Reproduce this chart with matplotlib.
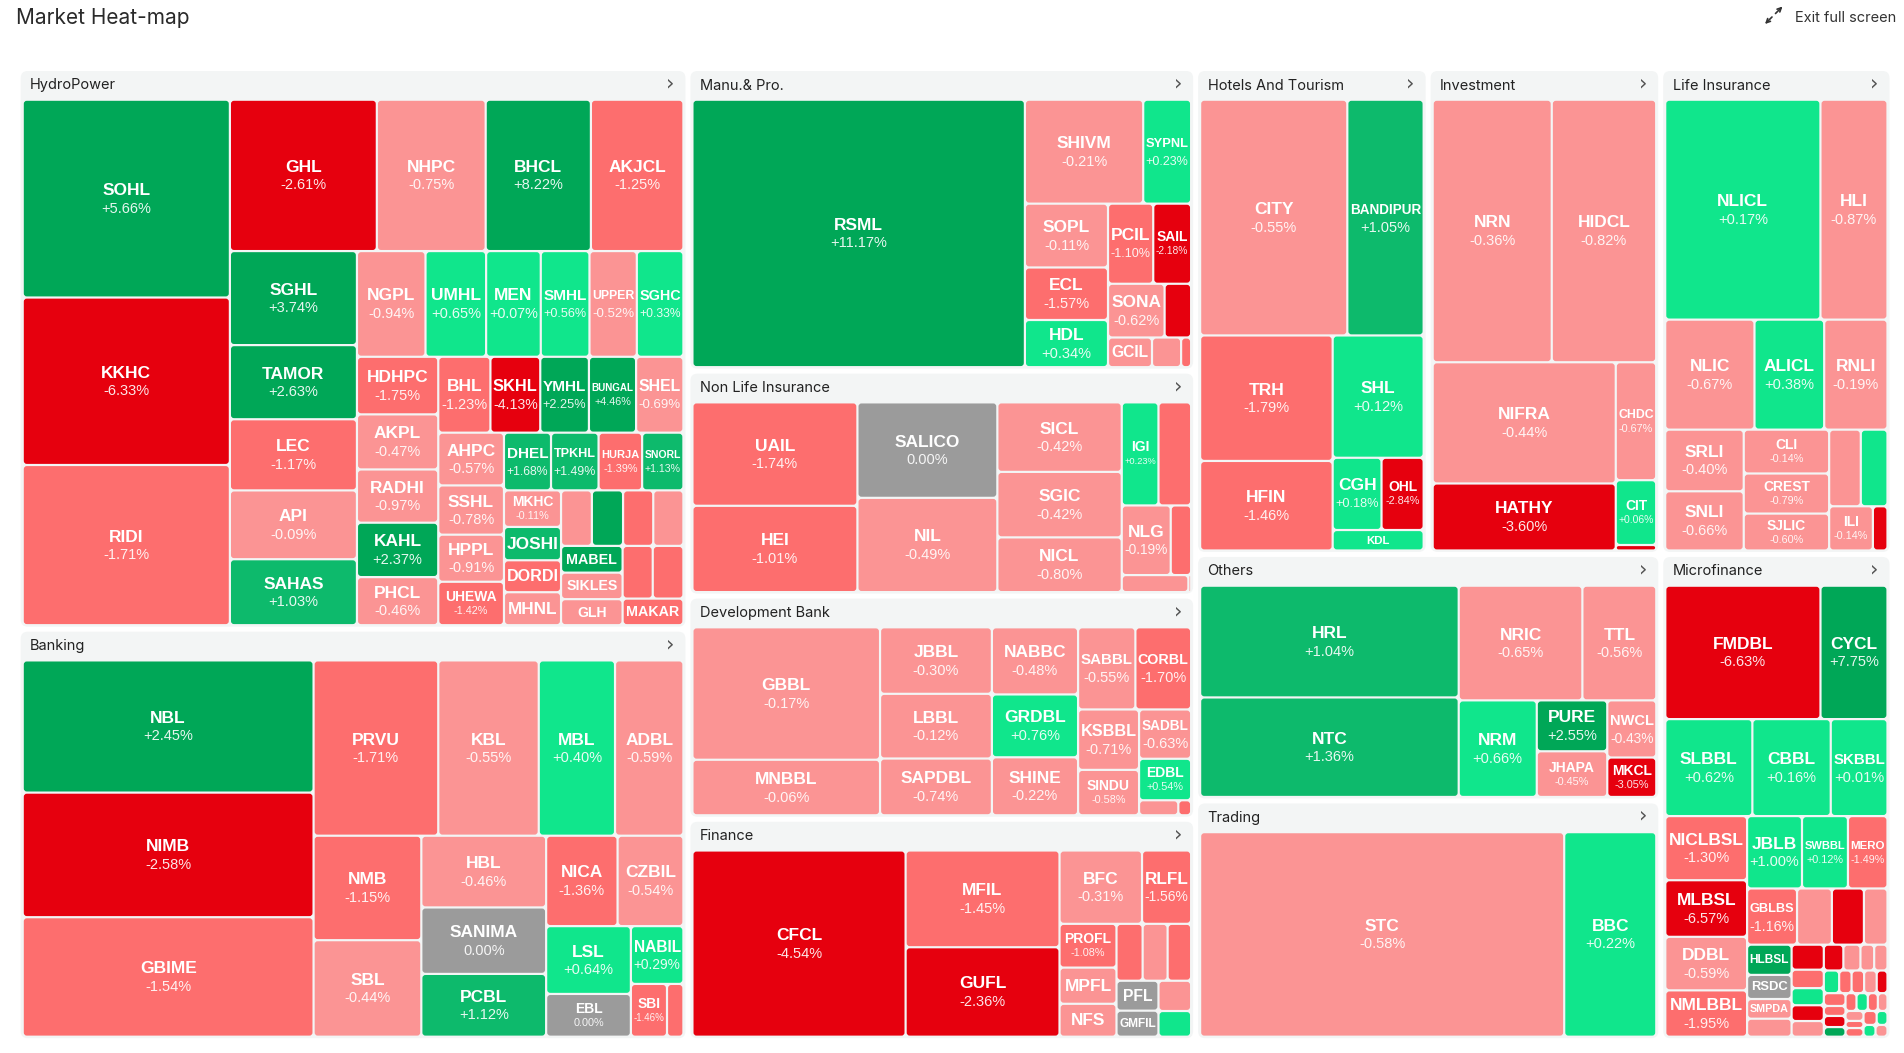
import matplotlib
matplotlib.use("Agg")
import matplotlib.pyplot as plt
from matplotlib.patches import FancyBboxPatch

PHI = (1 + 5 ** 0.5) / 2

# sector blocks and their relative size on the board
sectors = ["HydroPower", "Banking", "Manu.& Pro.", "Non Life Insurance",
           "Development Bank", "Finance", "Hotels And Tourism", "Investment",
           "Life Insurance", "Others", "Trading", "Microfinance"]
sector_size = [252.2, 185.1, 103.2, 76.7, 76.1, 75.5, 75.9, 75.9, 75.5, 77.0, 74.9, 75.5]

# stocks per sector: ticker, change (%), size  ("" = tile too small for a label)
hydro_names = ["SOHL", "KKHC", "RIDI", "GHL", "NHPC", "BHCL", "AKJCL", "SGHL", "TAMOR", "LEC",
               "API", "SAHAS", "NGPL", "UMHL", "MEN", "SMHL", "UPPER", "SGHC", "HDHPC", "AKPL",
               "RADHI", "KAHL", "PHCL", "BHL", "SKHL", "YMHL", "BUNGAL", "SHEL", "AHPC", "SSHL",
               "HPPL", "UHEWA", "DHEL", "TPKHL", "HURJA", "SNORL", "MKHC", "JOSHI", "DORDI", "MHNL",
               "", "", "", "", "MABEL", "SIKLES", "GLH", "", "", "MAKAR"]
hydro_change = [5.66, -6.33, -1.71, -2.61, -0.75, 8.22, -1.25, 3.74, 2.63, -1.17,
                -0.09, 1.03, -0.94, 0.65, 0.07, 0.56, -0.52, 0.33, -1.75, -0.47,
                -0.97, 2.37, -0.46, -1.23, -4.13, 2.25, 4.46, -0.69, -0.57, -0.78,
                -0.91, -1.42, 1.68, 1.49, -1.39, 1.13, -0.11, 1.52, -1.31, -0.62,
                -0.45, 2.41, -1.36, -0.58, 2.18, -0.72, -0.35, -1.24, -1.18, -1.33]
hydro_value = [27873, 23598, 22572, 15127, 11205, 10832, 9524, 8125, 6407, 6148,
               5946, 5700, 4929, 4358, 3929, 3501, 3405, 3350, 3185, 3046,
               2945, 3009, 2659, 2692, 2572, 2512, 2434, 2443, 2357, 2201,
               2104, 1940, 1846, 1865, 1709, 1620, 1420, 1294, 1240, 1280,
               1165, 1178, 1140, 1140, 1120, 1110, 1090, 1080, 1100, 1100]

bank_names = ["NBL", "NIMB", "GBIME", "PRVU", "KBL", "MBL", "ADBL", "NMB", "SBL", "HBL",
              "SANIMA", "PCBL", "NICA", "CZBIL", "LSL", "EBL", "NABIL", "SBI", ""]
bank_change = [2.45, -2.58, -1.54, -1.71, -0.55, 0.40, -0.59, -1.15, -0.44, -0.46,
               0.00, 1.12, -1.36, -0.54, 0.64, 0.00, 0.29, -1.46, -1.25]
bank_value = [26000, 24500, 23500, 14781, 11911, 9041, 8108, 7610, 7031, 6052,
              5609, 5299, 4366, 4026, 3885, 2450, 2053, 1289, 586]

manu_names = ["RSML", "SHIVM", "SYPNL", "SOPL", "ECL", "HDL", "PCIL", "SAIL", "SONA", "",
              "GCIL", "", ""]
manu_change = [11.17, -0.21, 0.23, -0.11, -1.57, 0.34, -1.10, -2.18, -0.62, -2.90,
               -0.40, -0.50, -1.30]
manu_value = [59840, 8276, 3352, 3570, 2938, 2638, 2438, 2043, 2046, 959, 878, 581, 200]

nonlife_names = ["UAIL", "HEI", "SALICO", "NIL", "SICL", "SGIC", "NICL", "IGI", "", "NLG",
                 "", "", ""]
nonlife_change = [-1.74, -1.01, 0.00, -0.49, -0.42, -0.42, -0.80, 0.23, -1.50, -0.19,
                  -1.40, -0.50, -0.50]
nonlife_value = [11408, 9518, 8931, 8817, 5782, 5446, 4550, 2530, 2250, 2280, 949, 758, 31]

devbank_names = ["GBBL", "MNBBL", "JBBL", "LBBL", "SAPDBL", "NABBC", "GRDBL", "SHINE",
                 "SABBL", "CORBL", "KSBBL", "SINDU", "SADBL", "EDBL", "", ""]
devbank_change = [-0.17, -0.06, -0.30, -0.12, -0.74, -0.48, 0.76, -0.22,
                  -0.55, -1.70, -0.71, -0.58, -0.63, 0.54, -0.40, -1.20]
devbank_value = [16655, 6984, 4987, 4850, 4255, 3878, 3631, 3349,
                 3156, 3069, 2470, 1856, 1721, 1448, 395, 129]

finance_names = ["CFCL", "MFIL", "GUFL", "BFC", "RLFL", "PROFL", "MPFL", "NFS", "", "",
                 "", "PFL", "GMFIL", "", ""]
finance_change = [-4.54, -1.45, -2.36, -0.31, -1.56, -1.08, -0.45, -0.35, -1.30, -0.60,
                  -1.20, 0.00, 0.00, -0.50, 0.40]
finance_value = [26699, 10017, 9261, 4071, 2422, 1677, 1387, 1261, 1000, 956,
                 900, 845, 735, 665, 564]

hotel_names = ["CITY", "BANDIPUR", "TRH", "HFIN", "SHL", "CGH", "OHL", "KDL"]
hotel_change = [-0.55, 1.05, -1.79, -1.46, 0.12, 0.18, -2.84, 0.30]
hotel_value = [23317, 12094, 11176, 7975, 7480, 2372, 2046, 1252]

invest_names = ["NRN", "HIDCL", "NIFRA", "HATHY", "CHDC", "CIT", ""]
invest_change = [-0.36, -0.82, -0.44, -3.60, -0.67, 0.06, -2.50]
invest_value = [21011, 18425, 14915, 8245, 3204, 1761, 149]

life_names = ["NLICL", "HLI", "NLIC", "ALICL", "RNLI", "SRLI", "SNLI", "CLI", "CREST",
              "SJLIC", "", "", "ILI", ""]
life_change = [0.17, -0.87, -0.67, 0.38, -0.19, -0.40, -0.66, -0.14, -0.79,
               -0.60, -0.30, 0.20, -0.14, -2.60]
life_value = [23194, 10018, 6673, 5210, 4732, 3289, 3159, 2545, 2326, 2142, 1648, 1390, 1314, 439]

others_names = ["HRL", "NTC", "NRIC", "TTL", "NRM", "PURE", "JHAPA", "NWCL", "MKCL"]
others_change = [1.04, 1.36, -0.65, -0.56, 0.66, 2.55, -0.45, -0.43, -3.05]
others_value = [19398, 17278, 9521, 5690, 5062, 2410, 2162, 1881, 1298]

trading_names = ["STC", "BBC"]
trading_change = [-0.58, 0.22]
trading_value = [50745, 12835]

micro_names = ["FMDBL", "CYCL", "SLBBL", "CBBL", "SKBBL", "NICLBSL", "MLBSL", "DDBL", "NMLBBL",
               "JBLB", "SWBBL", "MERO", "GBLBS", "", "", "", "HLBSL", "RSDC", "SMPDA", ""] + [""] * 29
micro_change = [-6.63, 7.75, 0.62, 0.16, 0.01, -1.30, -6.57, -0.59, -1.95,
                1.00, 0.12, -1.49, -1.16, -0.50, -3.00, -0.40, 2.30, 0.00, -0.60, -0.30,
                -2.50, -1.40, 0.50, -2.20, -0.60,
                -2.70, -0.50, -0.40, -0.60,
                0.60, -1.30, -1.50, -0.70, -2.40,
                -1.20, -1.60, -2.30, 2.60,
                -1.10, 0.40, -1.30, -0.50,
                -0.80, -1.20, -1.40,
                -1.70, 0.30,
                0.50, -0.40]
micro_value = [14071, 6077, 5739, 5166, 3741, 3566, 3146, 2976, 2576,
               2701, 2261, 1946, 1908, 1331, 1224, 901, 914, 729, 596, 544,
               548, 404, 375, 346, 343,
               343, 300, 241, 234,
               236, 191, 193, 194, 166,
               189, 147, 164, 142,
               133, 137, 121, 117,
               122, 87, 106,
               125, 103,
               96, 96]

sector_data = {
    "HydroPower": (hydro_names, hydro_change, hydro_value),
    "Banking": (bank_names, bank_change, bank_value),
    "Manu.& Pro.": (manu_names, manu_change, manu_value),
    "Non Life Insurance": (nonlife_names, nonlife_change, nonlife_value),
    "Development Bank": (devbank_names, devbank_change, devbank_value),
    "Finance": (finance_names, finance_change, finance_value),
    "Hotels And Tourism": (hotel_names, hotel_change, hotel_value),
    "Investment": (invest_names, invest_change, invest_value),
    "Life Insurance": (life_names, life_change, life_value),
    "Others": (others_names, others_change, others_value),
    "Trading": (trading_names, trading_change, trading_value),
    "Microfinance": (micro_names, micro_change, micro_value),
}


def squarify(values, x0, y0, x1, y1):
    # squarified treemap (golden ratio), values kept in given order
    rects = []
    total = float(sum(values))
    n = len(values)
    i0 = 0
    while i0 < n:
        dx, dy = x1 - x0, y1 - y0
        s = values[i0]
        lo = hi = s
        i1 = i0 + 1
        alpha = max(dy / dx, dx / dy) / (total * PHI)
        beta = s * s * alpha
        best = max(hi / beta, beta / lo)
        while i1 < n:
            v = values[i1]
            s2 = s + v
            lo2, hi2 = min(lo, v), max(hi, v)
            beta = s2 * s2 * alpha
            r = max(hi2 / beta, beta / lo2)
            if r > best:
                break
            s, lo, hi, best = s2, lo2, hi2, r
            i1 += 1
        row = values[i0:i1]
        if dx < dy:
            yb = y0 + dy * s / total
            xx = x0
            for v in row:
                w = dx * v / s
                rects.append((xx, y0, w, yb - y0))
                xx += w
            y0 = yb
        else:
            xb = x0 + dx * s / total
            yy = y0
            for v in row:
                h = dy * v / s
                rects.append((x0, yy, xb - x0, h))
                yy += h
            x0 = xb
        total -= s
        i0 = i1
    return rects


def tile_color(c):
    if c >= 2:
        return "#00a757"
    if c > 1:
        return "#0dba6c"
    if c > 0:
        return "#10e68c"
    if c == 0:
        return "#9b9b9b"
    if c > -1:
        return "#fb9494"
    if c > -2:
        return "#fd6e6e"
    return "#e6000e"


def pct(c):
    return "0.00%" if c == 0 else f"{c:+.2f}%"


fig = plt.figure(figsize=(19.04, 10.53), dpi=100)
ax = fig.add_axes([0, 0, 1, 1])
ax.set_xlim(0, 1904)
ax.set_ylim(1053, 0)
ax.axis("off")

LBL = "Liberation Sans"
HDR = ["Inter", "DejaVu Sans"]

ax.text(16.5, 23.5, "Market Heat-map", fontsize=15, color="#2a2a2a", family=HDR,
        ha="left", va="baseline")
ax.text(1795, 21.5, "Exit full screen", fontsize=10.5, color="#333333", family=HDR,
        ha="left", va="baseline")
for a, b in [((1775.5, 13.5), (1782.5, 6.5)), ((1772.0, 17.0), (1765.0, 24.0))]:
    ax.annotate("", xy=b, xytext=a,
                arrowprops=dict(arrowstyle="->", lw=1.2, color="#333333", mutation_scale=7,
                                shrinkA=0, shrinkB=0))

GAP = 1.1
to_fit = []  # (text, available width in px)
sector_rects = squarify(sector_size, 18.2, 68.5, 1892.0, 1040.7)

for sec, (sx, sy, sw, sh) in zip(sectors, sector_rects):
    px, py, pw, ph = sx + 2.5, sy + 2.5, sw - 5, sh - 5
    ax.add_patch(FancyBboxPatch((px, py), pw, ph, boxstyle="round,pad=0,rounding_size=7",
                                fc="#f3f5f5", ec="none"))
    ax.text(px + 9.5, py + 14.5, sec, fontsize=10.5, color="#222222", family=HDR,
            ha="left", va="center")
    ax.text(px + pw - 15, py + 12.5, "\u203a", fontsize=15, color="#555555",
            family="DejaVu Sans", ha="center", va="center")

    names, changes, values = sector_data[sec]
    tiles = squarify(values, px + 2, py + 28.7, px + pw - 2, py + ph - 1.5)
    for (x, y, w, h), name, chg in zip(tiles, names, changes):
        bw, bh = max(w - 2 * GAP, 0.6), max(h - 2 * GAP, 0.6)
        r = min(3.0, bw / 2, bh / 2)
        p = FancyBboxPatch((x + GAP, y + GAP), bw, bh,
                           boxstyle=f"round,pad=0,rounding_size={r}",
                           fc=tile_color(chg), ec="none")
        ax.add_patch(p)
        if not name:
            continue
        cx, cy = x + w / 2, y + h / 2
        txts = []
        if h < 36.5:
            fs = min(12.5, max(7.5, 0.34 * h + 1.2))
            txts.append(ax.text(cx, cy + 0.5, name, fontsize=fs, fontweight="bold",
                                color="white", family=LBL, ha="center", va="center"))
        else:
            small = (w < 44 or h < 46 or (len(name) >= 5 and w < 47)
                     or (len(name) >= 6 and w < 62))
            if small:
                f1, f2, d1, d2 = 10, 7.8, 6.5, 7.5
            else:
                f1, f2, d1, d2 = 12.5, 10.5, 8, 10
            txts.append(ax.text(cx, cy - d1, name, fontsize=f1, fontweight="bold",
                                color="white", family=LBL, ha="center", va="center"))
            txts.append(ax.text(cx, cy + d2, pct(chg), fontsize=f2, color="white",
                                alpha=0.9, family=LBL, ha="center", va="center"))
        for t in txts:
            t.set_clip_path(p)
            to_fit.append((t, bw - 3))

# shrink labels that are wider than their tile
renderer = fig.canvas.get_renderer()
for t, avail in to_fit:
    wpx = t.get_window_extent(renderer).width
    if wpx > avail:
        t.set_fontsize(max(5, t.get_fontsize() * avail / wpx))

fig.savefig("out.png", dpi=100, facecolor="white")
